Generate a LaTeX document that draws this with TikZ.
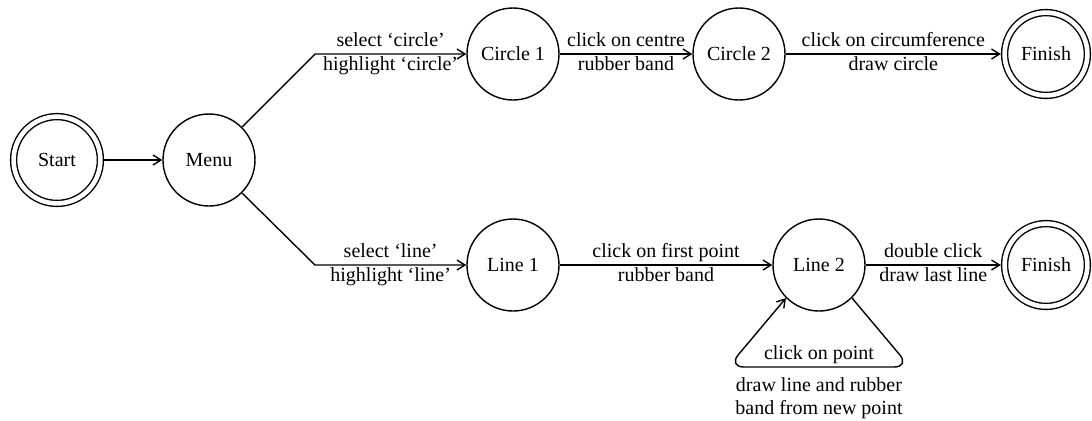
\documentclass[tikz,border=0pt]{standalone}
\usepackage{fontspec}
\setmainfont{Liberation Serif}
\usetikzlibrary{arrows.meta}

\begin{document}
\begin{tikzpicture}[
    x=0.5pt, y=-0.5pt,
    % Define the style for the states
    state/.style={
        circle,
        draw=black,
        line width=0.7pt,
        minimum size=46pt,
        inner sep=0pt,
        font=\fontsize{10}{12}\selectfont
    },
    % start and finish states get a double ring
    accept/.style={
        state,
        double,
        double distance=2.3pt,
        minimum size=41.4pt,
        outer sep=1.9pt
    },
    % Define style for arrows
    arrow/.style={
        -{Straight Barb[length=4pt,width=5pt]},
        line width=0.7pt,
        black
    },
    % labels on the transitions
    toplbl/.style={
        above,
        inner sep=1pt,
        text depth=2.5pt,
        font=\fontsize{10}{11.5}\selectfont
    },
    botlbl/.style={
        below,
        inner sep=1pt,
        align=center,
        font=\fontsize{10}{11.5}\selectfont
    }
]
\useasboundingbox (0,0) rectangle (1092,420);

% states
\node (start) [accept, minimum size=43.4pt] at (57,160) {Start};
\node (menu)  [state] at (209,160) {Menu};
\node (circ1) [state] at (513,54) {Circle 1};
\node (circ2) [state] at (739,54) {Circle 2};
\node (finA)  [accept] at (1046,54) {Finish};
\node (line1) [state] at (513,265) {Line 1};
\node (line2) [state] at (819,265) {Line 2};
\node (finB)  [accept] at (1046,265) {Finish};

% bend points
\coordinate (bendA) at (315,54);
\coordinate (bendB) at (315,265);
\coordinate (loopR) at (910,367);
\coordinate (loopL) at (728,367);

% transitions
\draw [arrow] (start) -- (menu);
\draw [arrow] (menu.45) -- (bendA) -- node[toplbl]{select ‘circle’} node[botlbl]{highlight ‘circle’} (circ1);
\draw [arrow] (circ1) -- node[toplbl]{click on centre} node[botlbl]{rubber band} (circ2);
\draw [arrow] (circ2) -- node[toplbl]{click on circumference} node[botlbl]{draw circle} (finA);
\draw [arrow] (menu.-45) -- (bendB) -- node[toplbl]{select ‘line’} node[botlbl]{highlight ‘line’} (line1);
\draw [arrow] (line1) -- node[toplbl]{click on first point} node[botlbl]{rubber band} (line2);
\draw [arrow] (line2) -- node[toplbl]{double click} node[botlbl]{draw last line} (finB);
\draw [arrow, rounded corners=8pt] (line2.-45) -- (loopR)
    -- node[toplbl]{click on point} node[botlbl, yshift=-4pt]{draw line and rubber\\band from new point} (loopL)
    -- (line2.-135);

\end{tikzpicture}
\end{document}
